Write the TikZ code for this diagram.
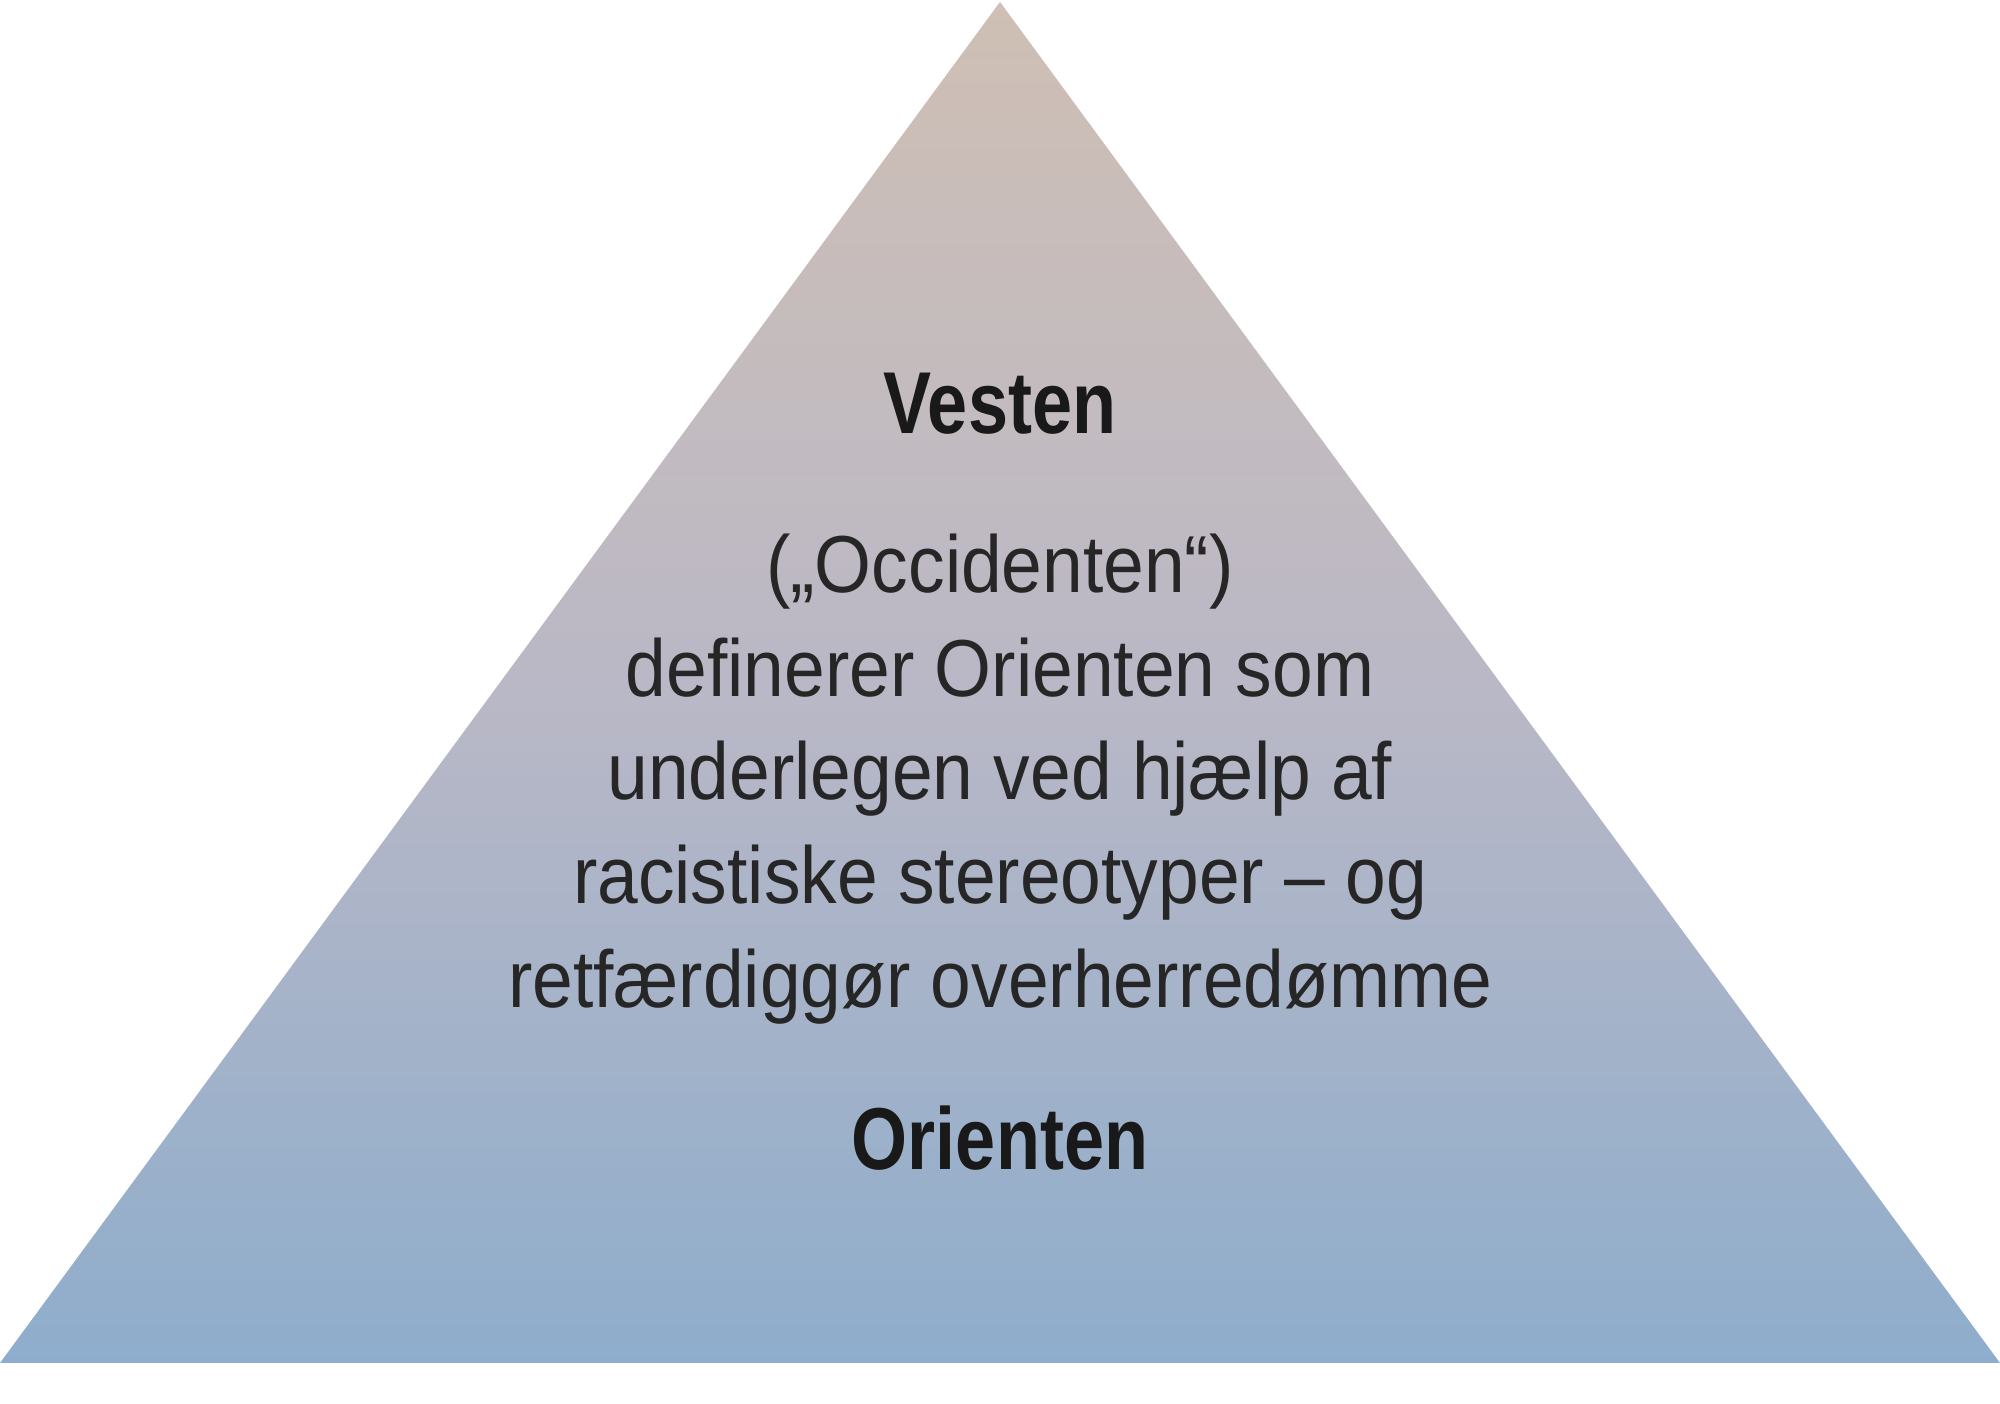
\documentclass[tikz,border=0pt]{standalone}
\usepackage{fontspec}
\setmainfont{Liberation Sans}[FakeStretch=0.82]
\newfontfamily\bodyfont{Liberation Sans}[FakeStretch=0.905]
\definecolor{topc}{RGB}{207,191,180}
\definecolor{midc}{RGB}{186,184,198}
\definecolor{botc}{RGB}{142,173,204}
\begin{document}
\begin{tikzpicture}[
  title/.style={font=\fontsize{25}{30}\selectfont\bfseries, text=black!90, inner sep=0pt, anchor=base},
  body/.style={font=\bodyfont\fontsize{23}{29.5}\selectfont, text=black!85, inner sep=0pt, align=center, anchor=base}
]
\useasboundingbox (0,0) rectangle (20,14.04);
\shade[top color=topc, bottom color=botc, middle color=midc] (0,0.41) -- (10,14.02) -- (20,0.41) -- cycle;
\node[title] (vesten) at (10,9.70) {Vesten};
\node[body] (l1) at (10,8.11) {(„Occidenten“)};
\node[body] (l2) at (10,7.07) {definerer Orienten som};
\node[body] (l3) at (10,6.04) {underlegen ved hjælp af};
\node[body] (l4) at (10,5.00) {racistiske stereotyper – og};
\node[body] (l5) at (10,3.96) {retfærdiggør overherredømme};
\node[title] (orienten) at (10,2.34) {Orienten};
\end{tikzpicture}
\end{document}
